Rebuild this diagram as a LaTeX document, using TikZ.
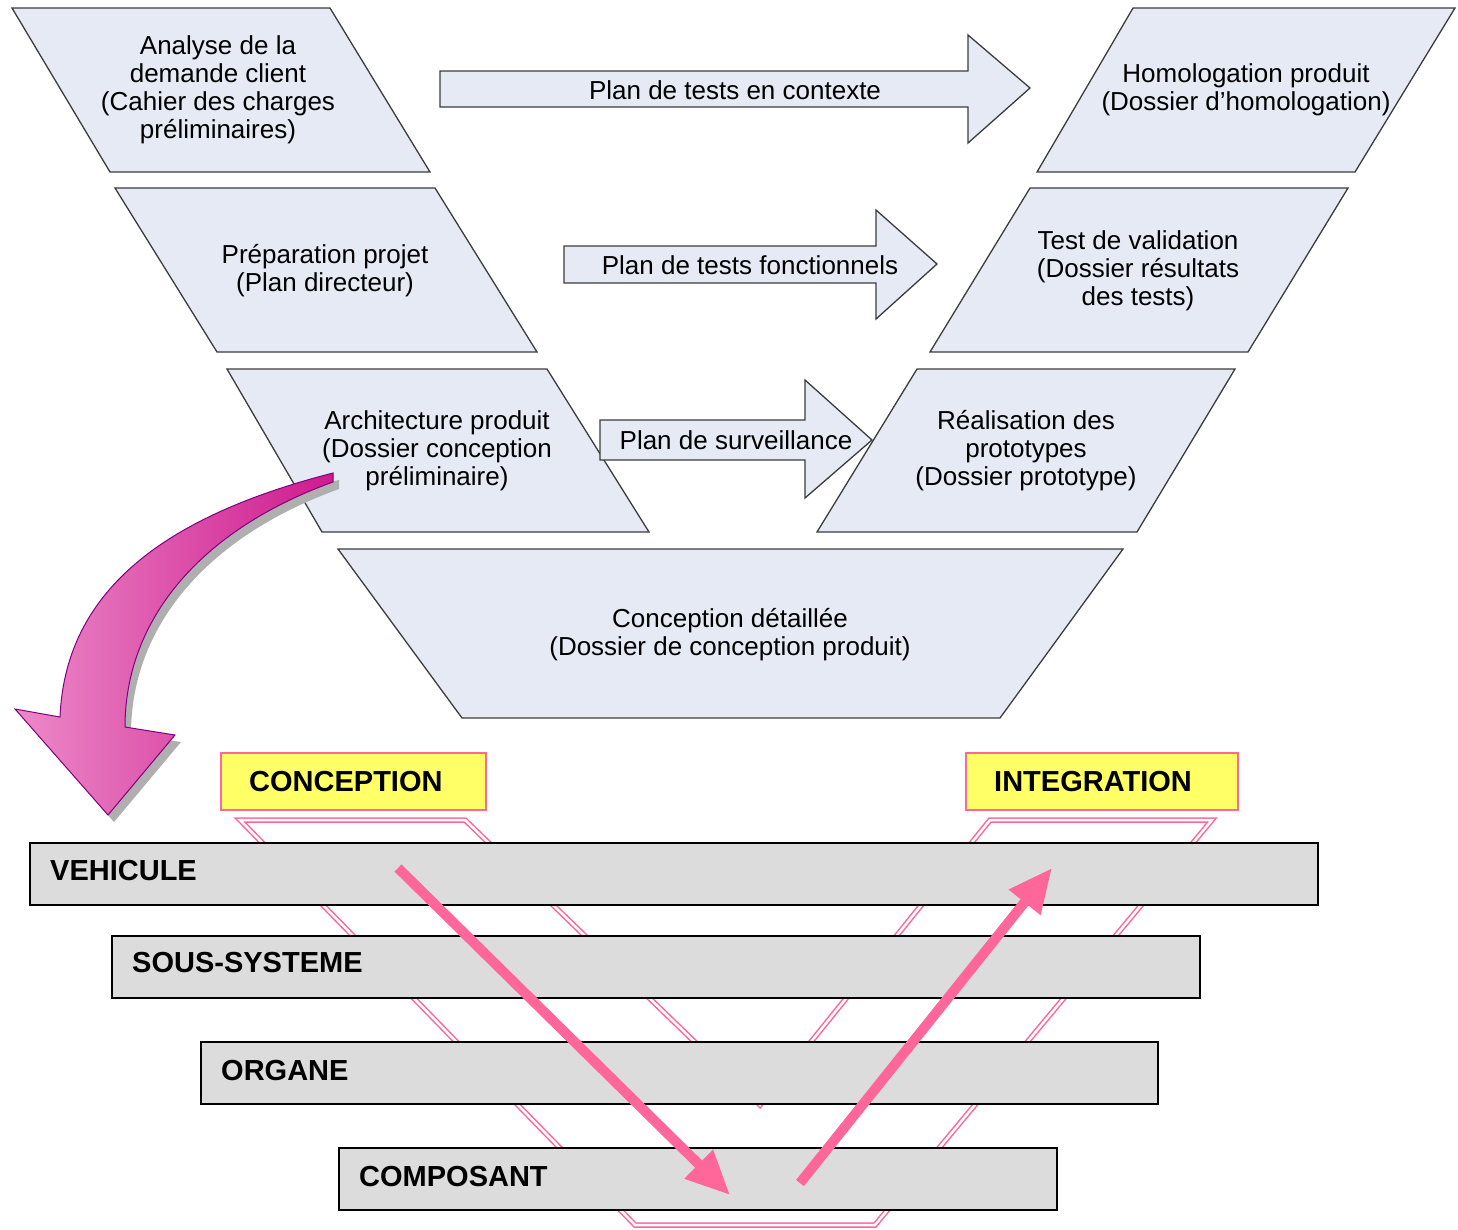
\documentclass[tikz,border=0pt]{standalone}
\usepackage{fontspec}
\setmainfont{Liberation Sans}
\usetikzlibrary{arrows.meta}
\definecolor{boxfill}{RGB}{229,234,244}
\definecolor{boxline}{RGB}{60,60,60}
\definecolor{vpink}{RGB}{255,102,153}
\definecolor{ylw}{RGB}{255,255,102}
\definecolor{bargray}{RGB}{220,220,220}
\definecolor{mag1}{RGB}{236,138,200}
\definecolor{mag2}{RGB}{206,26,142}
\definecolor{magline}{RGB}{128,0,128}
\definecolor{shadowgray}{RGB}{175,175,175}
\begin{document}
\begin{tikzpicture}[x=1pt,y=-1pt,
  phase/.style={draw=boxline,fill=boxfill,line width=1.3pt,line join=miter},
  phasetext/.style={align=center,font=\fontsize{26}{28}\selectfont,inner sep=0pt},
  barbox/.style={draw=black,fill=bargray,line width=1.5pt},
  bartext/.style={anchor=west,inner sep=0pt,font=\fontsize{29}{32}\selectfont\bfseries},
  ybox/.style={draw=vpink,fill=ylw,line width=1.5pt},
  voutline/.style={draw=vpink,line width=1.5pt,double=white,double distance=2.5pt,line join=miter},
  flow/.style={draw=vpink,line width=10pt,-{Triangle[length=44pt,width=38pt]}},
]
\useasboundingbox (0,0) rectangle (1458,1229);

% ---------- top V : phases ----------
\draw[phase] (12,8) -- (330,8) -- (430,172) -- (110,172) -- cycle;
\draw[phase] (115,188) -- (435,188) -- (537,352) -- (217,352) -- cycle;
\draw[phase] (227,369) -- (547,369) -- (649,532) -- (322,532) -- cycle;
\draw[phase] (338,549) -- (1123,549) -- (1000,718) -- (462,718) -- cycle;
\draw[phase] (1133,8) -- (1455,8) -- (1355,172) -- (1037,172) -- cycle;
\draw[phase] (1030,188) -- (1348,188) -- (1248,352) -- (930,352) -- cycle;
\draw[phase] (917,369) -- (1235,369) -- (1137,532) -- (817,532) -- cycle;

\node[phasetext] (analyse) at (218,90) {Analyse de la\\demande client\\(Cahier des charges\\préliminaires)};
\node[phasetext] (prep) at (325,271) {Préparation projet\\(Plan directeur)};
\node[phasetext] (archi) at (437,451) {Architecture produit\\(Dossier conception\\préliminaire)};
\node[phasetext] (concdet) at (730,635) {Conception détaillée\\(Dossier de conception produit)};
\node[phasetext] (homol) at (1246,90) {Homologation produit\\(Dossier d’homologation)};
\node[phasetext] (testval) at (1138,271) {Test de validation\\(Dossier résultats\\des tests)};
\node[phasetext] (realis) at (1026,451) {Réalisation des\\prototypes\\(Dossier prototype)};

% ---------- block arrows ----------
\draw[phase] (440,71) -- (968,71) -- (968,35) -- (1030,88) -- (968,143) -- (968,107) -- (440,107) -- cycle;
\draw[phase] (564,246) -- (876,246) -- (876,210) -- (937,264) -- (876,319) -- (876,283) -- (564,283) -- cycle;
\draw[phase] (600,420) -- (805,420) -- (805,380) -- (872,440) -- (805,498) -- (805,460) -- (600,460) -- cycle;
\node[phasetext] (pctx) at (735,90) {Plan de tests en contexte};
\node[phasetext] (pfonc) at (750,265) {Plan de tests fonctionnels};
\node[phasetext] (psurv) at (736,440) {Plan de surveillance};

% ---------- curved magenta arrow ----------
\fill[shadowgray,shift={(6pt,-7pt)}]
  (333,473) .. controls (150,520) and (65,600) .. (60,717)
  -- (15,709) -- (108,815) -- (175,735) -- (125,727)
  .. controls (125,620) and (200,530) .. (333,482) -- cycle;
\draw[magline,line width=1pt,left color=mag1,right color=mag2,shading angle=90]
  (333,473) .. controls (150,520) and (65,600) .. (60,717)
  -- (15,709) -- (108,815) -- (175,735) -- (125,727)
  .. controls (125,620) and (200,530) .. (333,482) -- cycle;

% ---------- bottom V ----------
\draw[ybox] (221,753) rectangle (486,810);
\node[bartext] (conc) at (249,782) {CONCEPTION};
\draw[ybox] (966,753) rectangle (1238,810);
\node[bartext] (integ) at (994,782) {INTEGRATION};

\draw[voutline] (240,820) -- (465,820) -- (760,1105) -- (990,820) -- (1212,820) -- (875,1225) -- (635,1225) -- cycle;

\draw[barbox] (30,843) rectangle (1318,905);
\draw[barbox] (112,936) rectangle (1200,998);
\draw[barbox] (201,1042) rectangle (1158,1104);
\draw[barbox] (339,1148) rectangle (1057,1210);
\node[bartext] (veh) at (50,871) {VEHICULE};
\node[bartext] (sous) at (132,963) {SOUS-SYSTEME};
\node[bartext] (org) at (221,1070) {ORGANE};
\node[bartext] (comp) at (359,1176) {COMPOSANT};

\coordinate (dstart) at (398,868);
\coordinate (dend) at (730,1195);
\coordinate (ustart) at (800,1183);
\coordinate (uend) at (1052,868);
\draw[flow] (dstart) -- (dend);
\draw[flow] (ustart) -- (uend);
\end{tikzpicture}
\end{document}
